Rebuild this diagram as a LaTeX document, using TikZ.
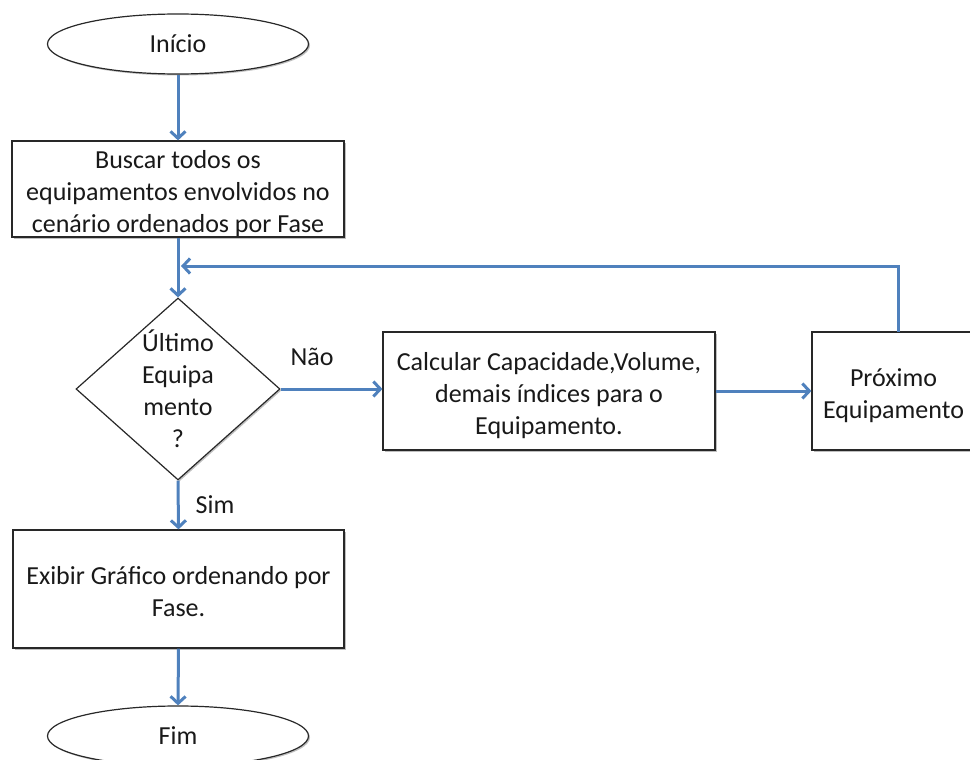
\documentclass[tikz,border=0pt]{standalone}
\usepackage{fontspec}
\setmainfont{Carlito}
\usetikzlibrary{shapes.geometric,arrows.meta,shadows}
\definecolor{flowblue}{RGB}{79,129,189}
\definecolor{boxline}{RGB}{40,40,40}
\newcommand\boxtext[1]{\begin{tabular}{@{}c@{}}\rule{0pt}{27.4pt}#1\\[-5pt]\end{tabular}}
\begin{document}
\begin{tikzpicture}[x=1pt,y=-1pt,
  every node/.style={font=\fontsize{26}{32}\selectfont, text=black!90},
  shade/.style={drop shadow={shadow xshift=1.5pt,shadow yshift=-1.5pt,opacity=0.25,fill=black}},
  term/.style={ellipse, draw=boxline, line width=1.2pt, fill=white, shade, minimum width=261pt, minimum height=60pt, inner sep=0pt},
  procbox/.style={rectangle, draw=boxline, line width=1.2pt, fill=white, shade, inner sep=0pt},
  decide/.style={diamond, draw=boxline, line width=1.2pt, fill=white, shade, minimum width=204pt, minimum height=182pt, inner sep=0pt},
  flow/.style={draw=flowblue, line width=3pt, -{Straight Barb[length=7pt,width=15pt]}},
  lbl/.style={inner sep=0pt}
]
\useasboundingbox (0,0) rectangle (970,760);

\node[term] (inicio) at (178,44) {Início};
\node[procbox, minimum width=332pt, minimum height=96pt] (busca) at (178,189)
  {\boxtext{Buscar todos os\\equipamentos envolvidos no\\cenário ordenados por Fase}};
\node[decide, label={[align=center,inner sep=0pt]center:Último\\Equipa\\mento\\?}] (dec) at (178,389) {};
\node[procbox, minimum width=332pt, minimum height=118pt] (calc) at (549,391)
  {\boxtext{Calcular Capacidade,Volume,\\demais índices para o\\Equipamento.}};
\node[procbox, minimum width=163pt, minimum height=118pt] (prox) at (893.5,391)
  {\boxtext{Próximo\\Equipamento}};
\node[procbox, minimum width=331pt, minimum height=118pt] (exibe) at (178.5,589)
  {\boxtext{Exibir Gráfico ordenando por\\Fase.}};
\node[term] (fim) at (178,736) {Fim};

\coordinate (loopstart) at (898,332);
\coordinate (loopend) at (181,266);
\coordinate (loopcorner) at (898,266);

\draw[flow] (inicio.south) -- (busca.north);
\draw[flow] (busca.south) -- (dec.north);
\draw[flow] (loopstart) -- (loopcorner) -- (loopend);
\draw[flow] (dec.east) -- (dec.east -| calc.west);
\draw[flow] (calc.east) -- (prox.west);
\draw[flow] (dec.south) -- (exibe.north);
\draw[flow] (exibe.south) -- (fim.north);

\node[lbl] (nao) at (312,357) {Não};
\node[lbl] (sim) at (215,505) {Sim};
\end{tikzpicture}
\end{document}
